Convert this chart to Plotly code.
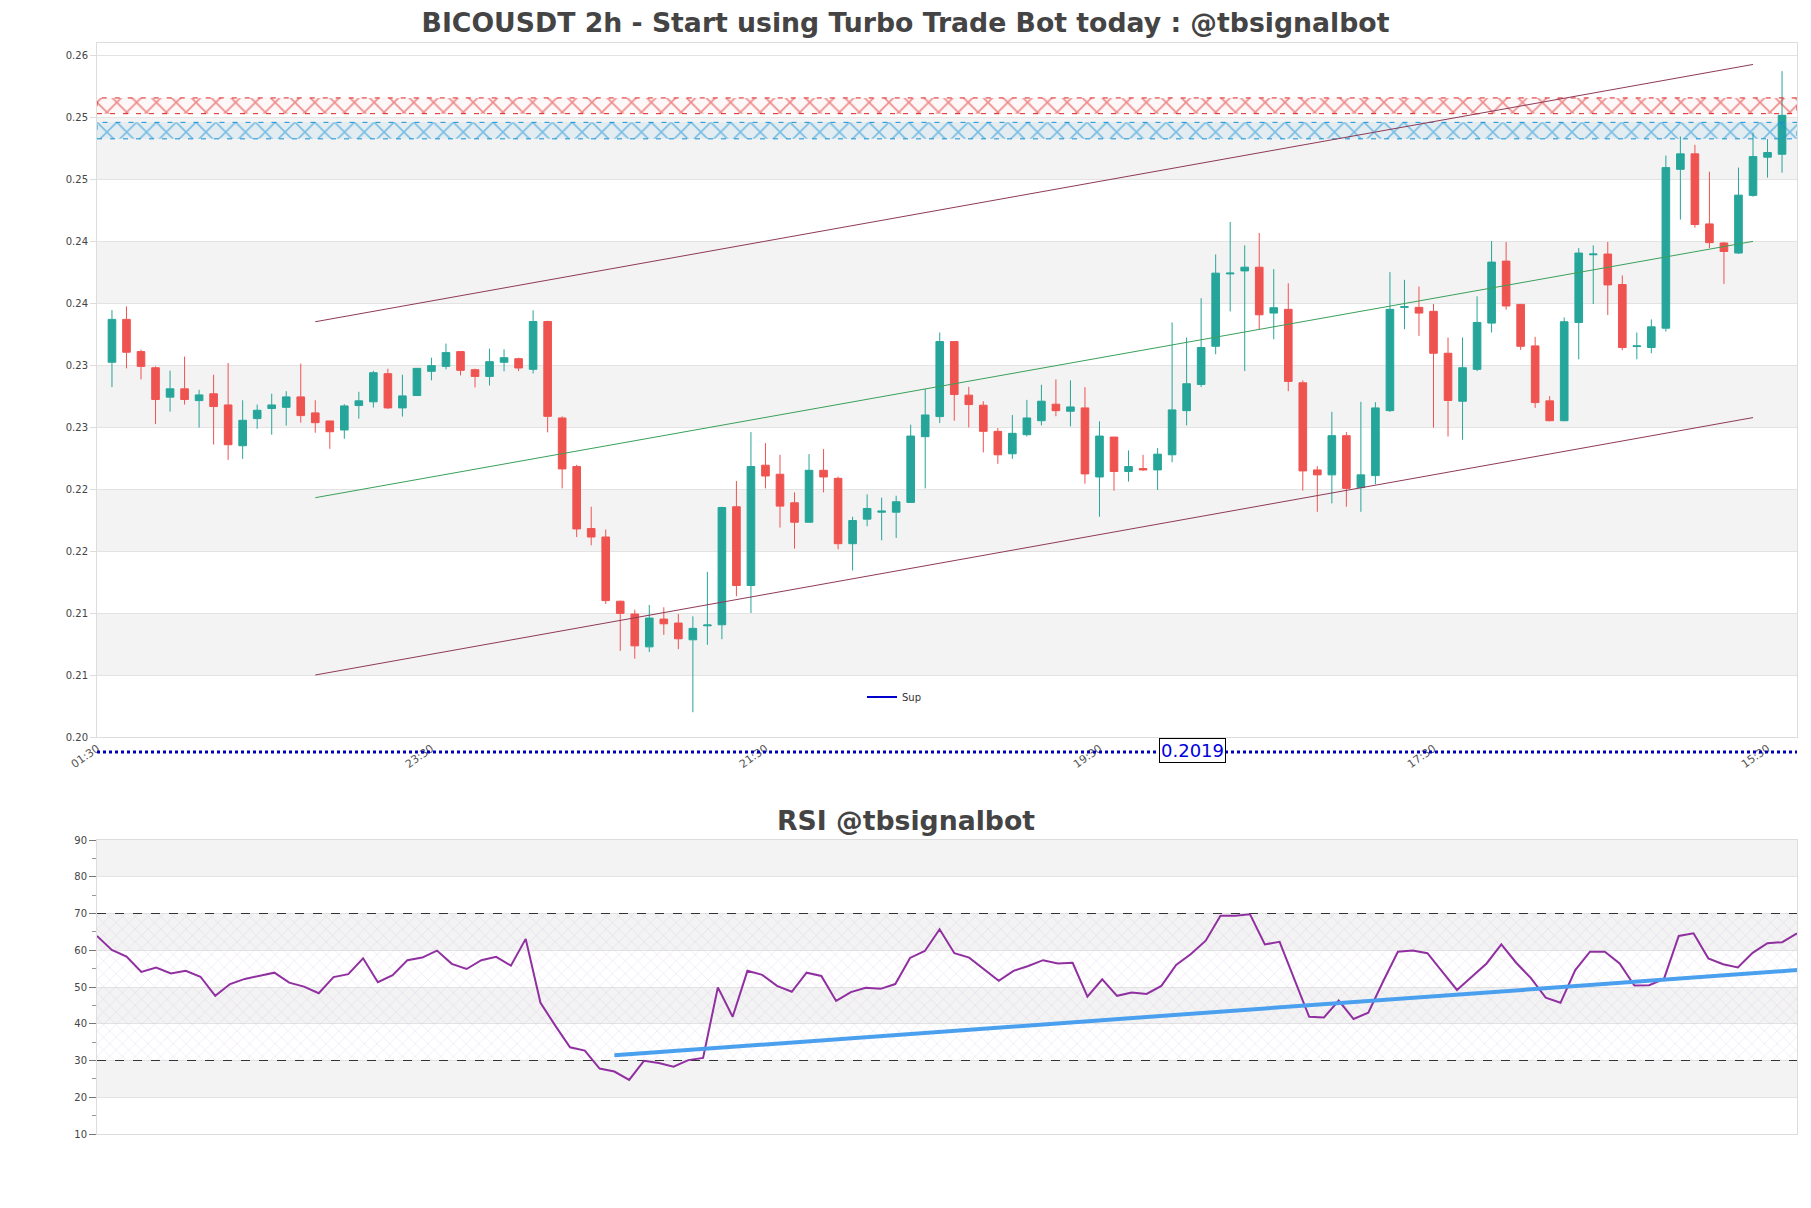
import plotly.graph_objects as go

# ---------------- data ----------------
opens = [
0.23522, 0.23868, 0.23608, 0.23478, 0.23241, 0.23308, 0.23213, 0.23268, 0.23178, 0.22849,
0.23068, 0.23149, 0.23159, 0.23243, 0.23114, 0.23049, 0.22976, 0.23173, 0.23203, 0.23430,
0.23154, 0.23254, 0.23449, 0.23489, 0.23608, 0.23462, 0.23408, 0.23522, 0.23551, 0.23465,
0.23851, 0.23073, 0.22681, 0.22181, 0.22113, 0.21595, 0.21492, 0.21227, 0.21451, 0.21419,
0.21284, 0.21397, 0.21405, 0.22357, 0.21722, 0.22692, 0.22619, 0.22389, 0.22232, 0.22651,
0.22586, 0.22059, 0.22257, 0.22313, 0.22313, 0.22392, 0.22922, 0.23084, 0.23689, 0.23257,
0.23176, 0.22965, 0.22784, 0.22938, 0.23051, 0.23184, 0.23127, 0.23154, 0.22597, 0.22919,
0.22641, 0.22665, 0.22654, 0.22776, 0.23132, 0.23343, 0.23651, 0.24235, 0.24259, 0.24289,
0.23919, 0.23949, 0.23357, 0.22654, 0.22614, 0.22930, 0.22511, 0.22608, 0.23132, 0.23965,
0.23965, 0.23933, 0.23595, 0.23208, 0.23465, 0.23838, 0.24338, 0.23989, 0.23654, 0.23211,
0.23051, 0.23843, 0.24389, 0.24395, 0.24149, 0.23649, 0.23641, 0.23797, 0.25078, 0.25203,
0.24638, 0.24484, 0.24403, 0.24868, 0.25176, 0.25200]

highs = [
0.23943, 0.23973, 0.23624, 0.23489, 0.23454, 0.23568, 0.23300, 0.23422, 0.23516, 0.23216,
0.23181, 0.23268, 0.23289, 0.23511, 0.23216, 0.23049, 0.23184, 0.23284, 0.23454, 0.23470,
0.23422, 0.23473, 0.23559, 0.23673, 0.23608, 0.23470, 0.23632, 0.23627, 0.23559, 0.23941,
0.23857, 0.23086, 0.22695, 0.22357, 0.22173, 0.21600, 0.21527, 0.21565, 0.21546, 0.21492,
0.21473, 0.21832, 0.22357, 0.22565, 0.22959, 0.22870, 0.22776, 0.22473, 0.22781, 0.22822,
0.22600, 0.22276, 0.22457, 0.22430, 0.22446, 0.23019, 0.23308, 0.23762, 0.23689, 0.23324,
0.23208, 0.22992, 0.23097, 0.23219, 0.23341, 0.23384, 0.23376, 0.23322, 0.23046, 0.22919,
0.22811, 0.22776, 0.22830, 0.23843, 0.23722, 0.24038, 0.24392, 0.24654, 0.24465, 0.24565,
0.24273, 0.24159, 0.23376, 0.22684, 0.23122, 0.22959, 0.23203, 0.23200, 0.24249, 0.24187,
0.24133, 0.23992, 0.23722, 0.23722, 0.24054, 0.24500, 0.24492, 0.23989, 0.23727, 0.23249,
0.23884, 0.24443, 0.24465, 0.24492, 0.24222, 0.23762, 0.23868, 0.25189, 0.25343, 0.25276,
0.25059, 0.24492, 0.25092, 0.25376, 0.25322, 0.25870]

lows = [
0.23322, 0.23473, 0.23384, 0.23024, 0.23124, 0.23181, 0.22995, 0.22859, 0.22735, 0.22743,
0.22986, 0.22938, 0.23011, 0.23035, 0.22954, 0.22824, 0.22905, 0.23068, 0.23157, 0.23146,
0.23084, 0.23254, 0.23376, 0.23465, 0.23416, 0.23319, 0.23335, 0.23449, 0.23451, 0.23432,
0.22957, 0.22505, 0.22113, 0.22046, 0.21573, 0.21195, 0.21132, 0.21186, 0.21324, 0.21208,
0.20700, 0.21243, 0.21289, 0.21635, 0.21500, 0.22505, 0.22189, 0.22019, 0.22232, 0.22473,
0.22014, 0.21843, 0.22200, 0.22086, 0.22105, 0.22392, 0.22505, 0.23032, 0.23051, 0.22997,
0.22795, 0.22703, 0.22743, 0.22924, 0.23013, 0.23087, 0.23005, 0.22543, 0.22276, 0.22487,
0.22559, 0.22646, 0.22492, 0.22716, 0.23013, 0.23322, 0.23587, 0.23932, 0.23451, 0.23789,
0.23708, 0.23289, 0.22487, 0.22316, 0.22384, 0.22357, 0.22316, 0.22538, 0.23122, 0.23789,
0.23735, 0.22995, 0.22924, 0.22897, 0.23451, 0.23762, 0.23946, 0.23622, 0.23154, 0.23046,
0.23046, 0.23546, 0.23992, 0.23903, 0.23619, 0.23546, 0.23595, 0.23770, 0.24673, 0.24608,
0.24443, 0.24154, 0.24397, 0.24857, 0.25011, 0.25051]

closes = [
0.23868, 0.23603, 0.23489, 0.23222, 0.23308, 0.23222, 0.23259, 0.23165, 0.22857, 0.23054,
0.23135, 0.23178, 0.23243, 0.23092, 0.23035, 0.22962, 0.23170, 0.23211, 0.23438, 0.23154,
0.23251, 0.23473, 0.23495, 0.23600, 0.23457, 0.23408, 0.23527, 0.23559, 0.23476, 0.23851,
0.23086, 0.22662, 0.22178, 0.22113, 0.21600, 0.21497, 0.21235, 0.21459, 0.21413, 0.21292,
0.21376, 0.21403, 0.22351, 0.21722, 0.22681, 0.22605, 0.22362, 0.22232, 0.22651, 0.22597,
0.22059, 0.22246, 0.22343, 0.22322, 0.22397, 0.22927, 0.23097, 0.23689, 0.23262, 0.23181,
0.22965, 0.22776, 0.22949, 0.23073, 0.23208, 0.23132, 0.23162, 0.22622, 0.22927, 0.22641,
0.22681, 0.22654, 0.22781, 0.23138, 0.23349, 0.23641, 0.24241, 0.24241, 0.24289, 0.23905,
0.23962, 0.23368, 0.22646, 0.22614, 0.22930, 0.22505, 0.22614, 0.23154, 0.23949, 0.23970,
0.23919, 0.23595, 0.23214, 0.23478, 0.23843, 0.24330, 0.23976, 0.23651, 0.23197, 0.23051,
0.23849, 0.24403, 0.24395, 0.24146, 0.23641, 0.23654, 0.23808, 0.25092, 0.25203, 0.24633,
0.24487, 0.24416, 0.24870, 0.25181, 0.25214, 0.25514]

rsi = [
63.9, 60.1, 58.3, 54.1, 55.3, 53.7, 54.4, 52.8, 47.6, 50.8,
52.2, 53.1, 53.9, 51.2, 50.1, 48.3, 52.7, 53.5, 57.8, 51.3,
53.2, 57.3, 58.0, 59.9, 56.3, 54.9, 57.3, 58.2, 55.8, 63.1,
45.7, 39.5, 33.6, 32.7, 27.8, 27.0, 24.7, 29.9, 29.3, 28.3,
30.1, 30.7, 49.9, 41.9, 54.4, 53.3, 50.3, 48.7, 53.9, 53.0,
46.2, 48.6, 49.8, 49.5, 50.8, 57.9, 59.8, 65.7, 59.2, 58.0,
54.8, 51.7, 54.4, 55.7, 57.3, 56.4, 56.6, 47.4, 52.1, 47.6,
48.5, 48.1, 50.3, 56.0, 59.0, 62.6, 69.4, 69.4, 69.8, 61.6,
62.3, 51.9, 41.9, 41.7, 46.3, 41.3, 43.0, 51.5, 59.6, 59.9,
59.2, 54.2, 49.2, 52.8, 56.4, 61.6, 56.6, 52.4, 47.1, 45.7,
54.6, 59.6, 59.6, 56.4, 50.4, 50.5, 52.2, 63.9, 64.6, 57.8,
56.2, 55.3, 59.3, 61.9, 62.2, 64.6]

candle_idx = list(range(len(opens)))

tick_idx = [-1, 22, 45, 68, 91, 114]
tick_labels = ["01:30", "23:30", "21:30", "19:30", "17:30", "15:30"]

price_tick_vals = [0.205, 0.21, 0.215, 0.22, 0.225, 0.23, 0.235, 0.24, 0.245, 0.25, 0.255, 0.26]
price_tick_text = ["0.20", "0.21", "0.21", "0.22", "0.22", "0.23", "0.23", "0.24", "0.24", "0.25", "0.25", "0.26"]

channel_x = [14, 113]
channel_upper = [0.23849, 0.25924]
channel_mid = [0.22430, 0.24497]
channel_lower = [0.21000, 0.23076]

resistance_zone = [0.25527, 0.25654]
support_zone = [0.25324, 0.25457]
sup_level = 0.2019

price_bands = [(0.21, 0.215), (0.22, 0.225), (0.23, 0.235), (0.24, 0.245), (0.25, 0.255)]
rsi_bands = [(20, 30), (40, 50), (60, 70), (80, 90)]
rsi_levels = [30, 70]
rsi_trend_x = [35, 115]
rsi_trend_y = [31.4, 54.6]

# ---------------- layout geometry ----------------
W, H = 1811, 1208
OFF = 8  # page body margin
ML, MR, MT, MB = 97 - OFF, 14 + OFF, 43 - OFF, 74 + OFF
PH = H - MT - MB
PW = W - ML - MR


def py(ypage):
    return (H - MB - (ypage - OFF)) / PH


def px(xpage):
    return (xpage - OFF - ML) / PW


x_range = [-1.03, 116.03]
rsi_x_range = [0, len(rsi) - 1]

FONT = "DejaVu Sans"
fig = go.Figure()

# hatched zones
for zone, col, bg in [(resistance_zone, "#dd2020", "rgba(224,42,42,0.04)"),
                      (support_zone, "#1590d5", "rgba(30,150,216,0.08)")]:
    fig.add_trace(go.Scatter(
        x=[x_range[0], x_range[1], x_range[1], x_range[0], x_range[0]],
        y=[zone[0], zone[0], zone[1], zone[1], zone[0]],
        mode="lines", fill="toself", fillcolor="rgba(255,255,255,0)",
        line=dict(color=col, width=1, dash="5px,8px"),
        fillpattern=dict(shape="x", fgcolor=col, bgcolor=bg, size=14, solidity=0.22),
        showlegend=False, hoverinfo="skip", xaxis="x", yaxis="y"))

# channel lines
for ys, col in [(channel_upper, "#8e3a56"), (channel_mid, "#3aa05a"), (channel_lower, "#8e3a56")]:
    fig.add_trace(go.Scatter(x=channel_x, y=ys, mode="lines", line=dict(color=col, width=1),
                             showlegend=False, hoverinfo="skip", xaxis="x", yaxis="y"))

fig.add_trace(go.Candlestick(
    x=candle_idx, open=opens, high=highs, low=lows, close=closes,
    increasing=dict(line=dict(color="#26a69a", width=1), fillcolor="#26a69a"),
    decreasing=dict(line=dict(color="#ef5350", width=1), fillcolor="#ef5350"),
    whiskerwidth=0, showlegend=False, xaxis="x", yaxis="y"))

# Sup (out of visible range, legend only)
fig.add_trace(go.Scatter(x=[x_range[0], x_range[1]], y=[sup_level, sup_level], mode="lines",
                         line=dict(color="#0000cc", width=2), name="Sup", showlegend=True,
                         xaxis="x", yaxis="y"))

# RSI
fig.add_trace(go.Scatter(
    x=[rsi_x_range[0], rsi_x_range[1], rsi_x_range[1], rsi_x_range[0], rsi_x_range[0]],
    y=[rsi_levels[0], rsi_levels[0], rsi_levels[1], rsi_levels[1], rsi_levels[0]],
    mode="lines", fill="toself", fillcolor="rgba(255,255,255,0)", line=dict(width=0),
    fillpattern=dict(shape="x", fgcolor="rgba(170,140,195,0.55)", bgcolor="rgba(255,255,255,0)", size=9, solidity=0.12),
    showlegend=False, hoverinfo="skip", xaxis="x2", yaxis="y2"))
for lv in rsi_levels:
    fig.add_trace(go.Scatter(x=rsi_x_range, y=[lv, lv], mode="lines",
                             line=dict(color="#333333", width=1.2, dash="dash"),
                             showlegend=False, hoverinfo="skip", xaxis="x2", yaxis="y2"))
fig.add_trace(go.Scatter(x=list(range(len(rsi))), y=rsi, mode="lines",
                         line=dict(color="#9030a0", width=2), showlegend=False,
                         xaxis="x2", yaxis="y2"))
fig.add_trace(go.Scatter(x=rsi_trend_x, y=rsi_trend_y, mode="lines",
                         line=dict(color="#4aa0ee", width=4), showlegend=False,
                         xaxis="x2", yaxis="y2"))

shapes = []
for lo, hi in price_bands:
    shapes.append(dict(type="rect", xref="x domain", yref="y", x0=0, x1=1, y0=lo, y1=hi,
                       fillcolor="#f3f3f3", line=dict(width=0), layer="below"))
for lo, hi in rsi_bands:
    shapes.append(dict(type="rect", xref="x2 domain", yref="y2", x0=0, x1=1, y0=lo, y1=hi,
                       fillcolor="#f3f3f3", line=dict(width=0), layer="below"))
# dotted Sup marker line under the price axis
shapes.append(dict(type="line", xref="paper", yref="paper", x0=0, x1=1, y0=py(752), y1=py(752),
                   line=dict(color="#0000bb", width=3, dash="dot")))

annotations = [
    dict(text="<b>RSI @tbsignalbot</b>", xref="paper", yref="paper",
         x=px(905.5), y=py(820), xanchor="center", yanchor="middle", showarrow=False,
         font=dict(family=FONT, size=26.7, color="#444444")),
    dict(text=f"{sup_level:.4f}", xref="paper", yref="paper", x=px(1192), y=py(750),
         xanchor="center", yanchor="middle", showarrow=False,
         font=dict(family=FONT, size=18, color="#0000dd"),
         bgcolor="white", bordercolor="black", borderwidth=1, borderpad=1),
]

axis_common = dict(showline=True, mirror=True, linecolor="#dddddd", linewidth=1, zeroline=False)

fig.update_layout(
    width=W, height=H, margin=dict(l=ML, r=MR, t=MT, b=MB),
    paper_bgcolor="white", plot_bgcolor="white",
    font=dict(family=FONT, size=10, color="#444444"),
    title=dict(text="<b>BICOUSDT 2h - Start using Turbo Trade Bot today : @tbsignalbot</b>",
               x=(905.5 - OFF) / W, xanchor="center", xref="container",
               y=1 - (23 - OFF) / H, yanchor="middle",
               yref="container", font=dict(family=FONT, size=26.7, color="#444444")),
    xaxis=dict(domain=[0, 1], range=x_range, anchor="y", tickvals=tick_idx, ticktext=tick_labels,
               tickangle=-35, showgrid=False, rangeslider=dict(visible=False),
               tickfont=dict(size=11, color="#555555"), **axis_common),
    yaxis=dict(domain=[py(737), 1], range=[0.205, 0.26097], anchor="x", tickvals=price_tick_vals,
               ticktext=price_tick_text, showgrid=True, gridcolor="#e3e3e3",
               ticks="outside", ticklen=6, tickcolor="#dddddd", tickfont=dict(size=10), **axis_common),
    xaxis2=dict(domain=[0, 1], range=rsi_x_range, anchor="y2", showticklabels=False, showgrid=False,
                **axis_common),
    yaxis2=dict(domain=[0, py(840)], range=[10, 90], anchor="x2", dtick=10, showgrid=True,
                gridcolor="#e3e3e3", ticks="outside", ticklen=7, tickcolor="#777777",
                minor=dict(ticks="outside", ticklen=4, dtick=5, tickcolor="#999999", showgrid=False),
                tickfont=dict(size=10), **axis_common),
    boxgap=0.25,
    shapes=shapes, annotations=annotations,
    legend=dict(x=px(862), y=py(697), xanchor="left", yanchor="middle",
                bgcolor="rgba(0,0,0,0)", font=dict(size=10, color="#333333"), itemwidth=30),
    showlegend=True,
)

fig.write_html("out.html")
